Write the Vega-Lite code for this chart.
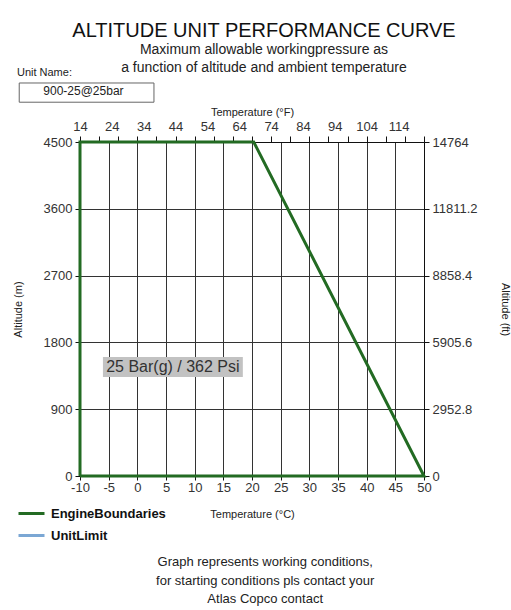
{
  "$schema": "https://vega.github.io/schema/vega-lite/v6.json",
  "width": 344,
  "height": 334,
  "autosize": {"type": "none"},
  "padding": {"left": 80, "top": 142, "right": 87, "bottom": 134},
  "background": "white",
  "config": {
    "font": "Liberation Sans",
    "view": {"stroke": null},
    "axisBottom": {
      "grid": true, "gridColor": "#333", "gridWidth": 1, "gridOpacity": 1,
      "domainColor": "#111", "tickColor": "#111", "tickSize": 4,
      "labelFontSize": 13, "labelColor": "#333", "labelPadding": 1,
      "labelFlush": false, "labelOverlap": false,
      "titleFontSize": 11, "titleFontWeight": "normal", "titleColor": "#222", "titlePadding": 14
    },
    "axisLeft": {
      "grid": true, "gridColor": "#333", "gridWidth": 1, "gridOpacity": 1,
      "domainColor": "#111", "tickColor": "#111", "tickSize": 5,
      "labelFontSize": 13, "labelColor": "#333", "labelPadding": 3,
      "labelFlush": false, "labelOverlap": false,
      "titleFontSize": 11, "titleFontWeight": "normal", "titleColor": "#222", "titlePadding": 20
    },
    "axisTop": {
      "grid": false,
      "domainColor": "#111", "tickColor": "#111", "tickSize": 6,
      "labelFontSize": 13, "labelColor": "#333", "labelPadding": 3,
      "labelFlush": false, "labelOverlap": false,
      "titleFontSize": 11, "titleFontWeight": "normal", "titleColor": "#222", "titlePadding": 3
    },
    "axisRight": {
      "grid": false,
      "domainColor": "#111", "tickColor": "#111", "tickSize": 5,
      "labelFontSize": 13, "labelColor": "#333", "labelPadding": 3,
      "labelFlush": false, "labelOverlap": false,
      "titleFontSize": 11, "titleFontWeight": "normal", "titleColor": "#222", "titlePadding": 22
    }
  },
  "title": {
    "text": "ALTITUDE UNIT PERFORMANCE CURVE",
    "subtitle": ["Maximum allowable workingpressure as", "a function of altitude and ambient temperature"],
    "anchor": "middle",
    "frame": "group",
    "fontSize": 20,
    "fontWeight": "normal",
    "font": "Liberation Sans",
    "color": "#111",
    "subtitleFontSize": 14,
    "subtitleColor": "#222",
    "subtitleFont": "Liberation Sans",
    "subtitlePadding": 2,
    "subtitleLineHeight": 18,
    "dx": 12,
    "offset": -8
  },
  "layer": [
    {
      "layer": [
        {
          "data": {"values": [
            {"i": 1, "temp": -10, "alt": 0, "series": "EngineBoundaries"},
            {"i": 2, "temp": -10, "alt": 4500, "series": "EngineBoundaries"},
            {"i": 3, "temp": 20.3, "alt": 4500, "series": "EngineBoundaries"},
            {"i": 4, "temp": 50, "alt": 0, "series": "EngineBoundaries"},
            {"i": 5, "temp": -10, "alt": 0, "series": "EngineBoundaries"}
          ]},
          "mark": {"type": "line", "strokeWidth": 3, "clip": false},
          "encoding": {
            "x": {
              "field": "temp", "type": "quantitative",
              "scale": {"domain": [-10, 50], "nice": false, "zero": false},
              "axis": {"title": "Temperature (°C)", "orient": "bottom", "values": [-10, -5, 0, 5, 10, 15, 20, 25, 30, 35, 40, 45, 50], "labelExpr": "datum.value + ''"}
            },
            "y": {
              "field": "alt", "type": "quantitative",
              "scale": {"domain": [0, 4500], "nice": false, "zero": false},
              "axis": {"title": "Altitude (m)", "orient": "left", "values": [0, 900, 1800, 2700, 3600, 4500], "labelExpr": "datum.value + ''"}
            },
            "color": {
              "field": "series", "type": "nominal",
              "scale": {"domain": ["EngineBoundaries", "UnitLimit"], "range": ["#236b23", "#7ba7d4"]},
              "legend": {
                "title": null, "orient": "none", "legendX": -63, "legendY": 357,
                "symbolType": "stroke", "symbolSize": 676, "symbolStrokeWidth": 3,
                "labelFontSize": 13, "labelFontWeight": "bold", "labelColor": "#111",
                "labelOffset": 5, "rowPadding": -4, "padding": 0
              }
            },
            "order": {"field": "i"}
          }
        },
        {
          "data": {"values": [{"text": "25 Bar(g) / 362 Psi"}]},
          "mark": {"type": "rect", "fill": "#c2c2c2"},
          "encoding": {
            "x": {"datum": -6.0, "type": "quantitative", "axis": {"title": "Temperature (°C)", "orient": "bottom", "values": [-10, -5, 0, 5, 10, 15, 20, 25, 30, 35, 40, 45, 50], "labelExpr": "datum.value + ''"}},
            "x2": {"datum": 18.4},
            "y": {"datum": 1603, "type": "quantitative", "axis": {"title": "Altitude (m)", "orient": "left", "values": [0, 900, 1800, 2700, 3600, 4500], "labelExpr": "datum.value + ''"}},
            "y2": {"datum": 1334}
          }
        },
        {
          "data": {"values": [{"text": "25 Bar(g) / 362 Psi"}]},
          "mark": {"type": "text", "fontSize": 16, "color": "#333", "align": "center", "baseline": "middle"},
          "encoding": {
            "x": {"datum": 6.2, "type": "quantitative", "axis": {"title": "Temperature (°C)", "orient": "bottom", "values": [-10, -5, 0, 5, 10, 15, 20, 25, 30, 35, 40, 45, 50], "labelExpr": "datum.value + ''"}},
            "y": {"datum": 1469, "type": "quantitative", "axis": {"title": "Altitude (m)", "orient": "left", "values": [0, 900, 1800, 2700, 3600, 4500], "labelExpr": "datum.value + ''"}},
            "text": {"field": "text"}
          }
        },
        {
          "data": {"values": [{"text": "Unit Name:"}]},
          "mark": {"type": "text", "fontSize": 11, "color": "#222", "align": "left", "baseline": "middle"},
          "encoding": {
            "x": {"datum": -21.0, "type": "quantitative", "axis": {"title": "Temperature (°C)", "orient": "bottom", "values": [-10, -5, 0, 5, 10, 15, 20, 25, 30, 35, 40, 45, 50], "labelExpr": "datum.value + ''"}},
            "y": {"datum": 5429, "type": "quantitative", "axis": {"title": "Altitude (m)", "orient": "left", "values": [0, 900, 1800, 2700, 3600, 4500], "labelExpr": "datum.value + ''"}},
            "text": {"field": "text"}
          }
        },
        {
          "data": {"values": [{"text": "900-25@25bar"}]},
          "mark": {"type": "rect", "fill": "white", "stroke": "#666", "strokeWidth": 1},
          "encoding": {
            "x": {"datum": -20.6, "type": "quantitative", "axis": {"title": "Temperature (°C)", "orient": "bottom", "values": [-10, -5, 0, 5, 10, 15, 20, 25, 30, 35, 40, 45, 50], "labelExpr": "datum.value + ''"}},
            "x2": {"datum": 2.9},
            "y": {"datum": 5295, "type": "quantitative", "axis": {"title": "Altitude (m)", "orient": "left", "values": [0, 900, 1800, 2700, 3600, 4500], "labelExpr": "datum.value + ''"}},
            "y2": {"datum": 5036}
          }
        },
        {
          "data": {"values": [{"text": "900-25@25bar"}]},
          "mark": {"type": "text", "fontSize": 12, "color": "#222", "align": "center", "baseline": "middle"},
          "encoding": {
            "x": {"datum": -9.4, "type": "quantitative", "axis": {"title": "Temperature (°C)", "orient": "bottom", "values": [-10, -5, 0, 5, 10, 15, 20, 25, 30, 35, 40, 45, 50], "labelExpr": "datum.value + ''"}},
            "y": {"datum": 5191, "type": "quantitative", "axis": {"title": "Altitude (m)", "orient": "left", "values": [0, 900, 1800, 2700, 3600, 4500], "labelExpr": "datum.value + ''"}},
            "text": {"field": "text"}
          }
        },
        {
          "data": {"values": [{"text": "Graph represents working conditions,\nfor starting conditions pls contact your\nAtlas Copco contact"}]},
          "mark": {"type": "text", "fontSize": 13, "color": "#222", "align": "center", "baseline": "middle", "lineBreak": "\n", "lineHeight": 18.5},
          "encoding": {
            "x": {"datum": 22.3, "type": "quantitative", "axis": {"title": "Temperature (°C)", "orient": "bottom", "values": [-10, -5, 0, 5, 10, 15, 20, 25, 30, 35, 40, 45, 50], "labelExpr": "datum.value + ''"}},
            "y": {"datum": -1159, "type": "quantitative", "axis": {"title": "Altitude (m)", "orient": "left", "values": [0, 900, 1800, 2700, 3600, 4500], "labelExpr": "datum.value + ''"}},
            "text": {"field": "text"}
          }
        }
      ]
    },
    {
      "data": {"values": [{"k": 1}]},
      "mark": {"type": "point", "opacity": 0},
      "encoding": {
        "x": {
          "datum": 14, "type": "quantitative",
          "scale": {"domain": [14, 122], "nice": false, "zero": false},
          "axis": {
            "title": "Temperature (°F)",
            "orient": "top",
            "values": [14, 20, 24, 26, 32, 34, 38, 44, 50, 54, 56, 62, 64, 68, 74, 80, 84, 86, 92, 94, 98, 104, 110, 114, 116, 122],
            "labelExpr": "((datum.value - 14) % 10 == 0 && datum.value <= 114) ? datum.value + '' : ''",
            "tickOpacity": {"condition": {"test": "(datum.value - 14) % 6 == 0", "value": 1}, "value": 0}
          }
        },
        "y": {
          "datum": 0, "type": "quantitative",
          "scale": {"domain": [0, 14764], "nice": false, "zero": false},
          "axis": {
            "title": "Altitude (ft)",
            "orient": "right",
            "values": [0, 2952.8, 5905.6, 8858.4, 11811.2, 14764],
            "labelExpr": "datum.value + ''"
          }
        }
      }
    }
  ],
  "resolve": {"scale": {"x": "independent", "y": "independent"}, "axis": {"x": "independent", "y": "independent"}}
}
